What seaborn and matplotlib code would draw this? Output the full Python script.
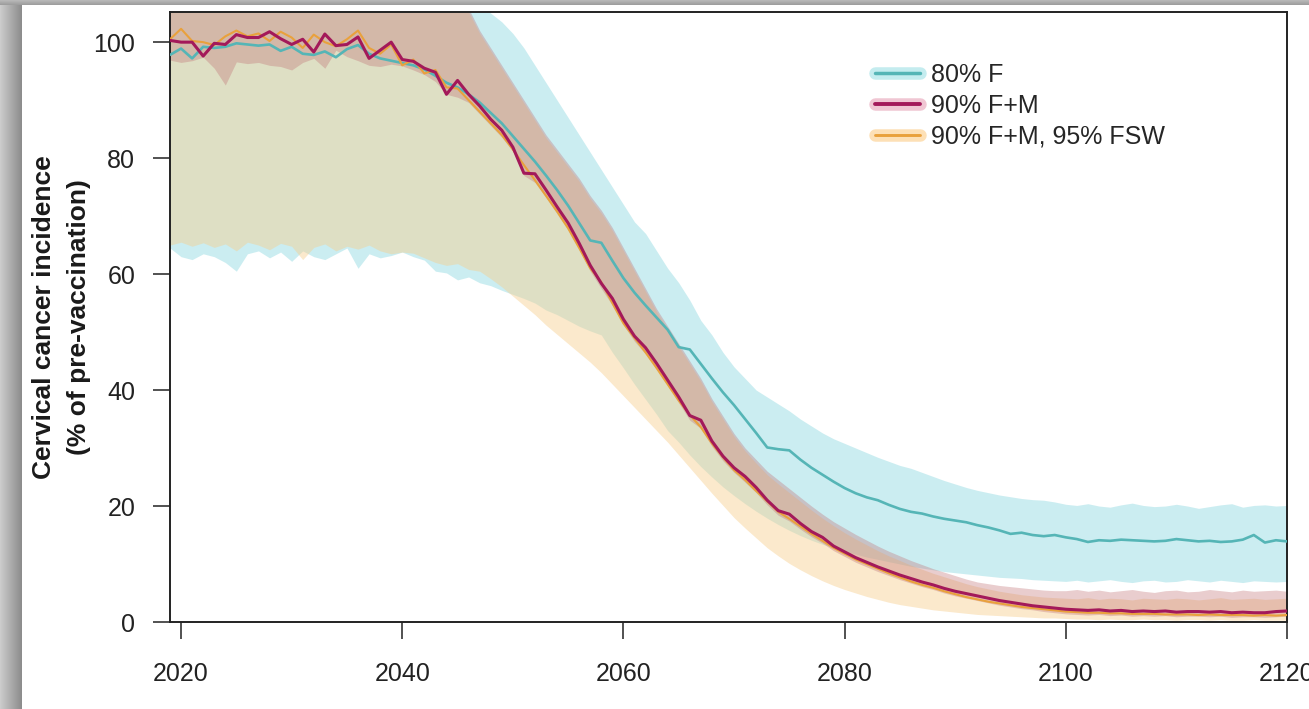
import numpy as np
import pandas as pd
import matplotlib
matplotlib.use('Agg')
import matplotlib.pyplot as plt
import seaborn as sns
from matplotlib.lines import Line2D

# Cervical cancer incidence projections (% of pre-vaccination), 2019-2120

years = np.arange(2019, 2121)

labels = ['80% F', '90% F+M', '90% F+M, 95% FSW']

# 80% F
teal_mid = [97.8, 98.9, 97.2, 99.2, 99.0, 99.2, 99.8, 99.6, 99.4, 99.6,
            98.5, 99.2, 98.0, 97.8, 98.4, 97.4, 98.8, 99.5, 98.0, 97.2,
            96.8, 96.4, 96.0, 95.3, 94.2, 93.0, 92.2, 91.0, 89.6, 87.8,
            86.0, 83.8, 81.6, 79.4, 77.0, 74.5, 71.8, 68.8, 65.8, 65.4,
            62.3, 59.3, 56.8, 54.6, 52.5, 50.4, 47.4, 47.0, 44.5, 42.0,
            39.6, 37.4, 35.0, 32.6, 30.1, 29.8, 29.6, 28.0, 26.6, 25.4,
            24.2, 23.1, 22.2, 21.5, 21.0, 20.2, 19.5, 19.0, 18.7, 18.2,
            17.8, 17.5, 17.2, 16.7, 16.3, 15.8, 15.2, 15.4, 15.0, 14.8,
            15.0, 14.6, 14.3, 13.8, 14.1, 14.0, 14.2, 14.1, 14.0, 13.9,
            14.0, 14.3, 14.1, 13.9, 14.0, 13.8, 13.9, 14.2, 15.0, 13.7,
            14.1, 13.9]
teal_lo = [64.5, 63.0, 62.5, 63.5, 63.0, 62.0, 60.5, 63.5, 64.0, 62.8,
           63.8, 62.2, 64.0, 63.0, 62.5, 63.5, 64.5, 61.0, 63.5, 62.8,
           63.2, 63.8, 63.0, 62.4, 60.5, 60.2, 59.0, 59.5, 58.5, 58.0,
           57.2, 56.5, 55.8, 55.0, 53.8, 53.0, 52.0, 51.0, 50.2, 49.5,
           46.5, 43.8, 41.0, 38.4, 35.8, 33.0, 31.0, 28.8, 26.8, 25.0,
           23.3, 21.8, 20.4, 19.1, 17.9, 16.8, 15.8, 14.9, 14.1, 13.4,
           12.8, 12.2, 11.7, 11.2, 10.8, 10.4, 10.0, 9.6, 9.3, 9.0,
           8.7, 8.5, 8.3, 8.1, 7.9, 7.7, 7.6, 7.5, 7.3, 7.2,
           7.1, 7.0, 7.2, 6.9, 7.1, 7.3, 7.0, 6.8, 7.1, 7.2,
           6.9, 7.0, 7.3, 7.1, 6.9, 7.2, 7.0, 6.8, 7.1, 7.0,
           6.9, 7.0]
teal_hi = [110.5, 111.0, 110.0, 111.5, 110.8, 111.2, 110.4, 111.0, 110.6, 111.3,
           110.9, 110.2, 111.1, 110.7, 110.3, 111.4, 110.8, 110.5, 110.0, 109.8,
           109.9, 109.5, 109.2, 109.0, 108.6, 108.2, 108.0, 107.5, 106.5, 105.0,
           103.5, 101.5, 99.0, 96.0, 93.0, 90.0, 87.0, 84.0, 81.0, 78.0,
           75.0, 72.0, 69.0, 67.0, 64.0, 61.0, 58.5, 55.5, 52.0, 49.5,
           46.5, 44.0, 42.0, 40.0, 38.8, 37.6, 36.4, 35.0, 33.8, 32.6,
           31.6, 30.8, 30.0, 29.2, 28.4, 27.7, 27.0, 26.5, 25.8, 25.1,
           24.4, 23.8, 23.2, 22.7, 22.3, 21.9, 21.6, 21.3, 21.1, 21.0,
           20.7, 20.3, 20.1, 20.4, 20.0, 19.8, 20.2, 20.5, 20.1, 19.9,
           20.0, 20.3, 20.0, 19.6, 19.9, 20.2, 20.4, 19.8, 20.1, 20.2,
           20.0, 20.1]

# 90% F+M
red_mid = [100.3, 100.0, 100.0, 97.6, 99.8, 99.6, 101.3, 100.8, 100.8, 101.8,
           100.6, 99.6, 100.5, 98.3, 101.4, 99.4, 99.6, 100.9, 97.2, 98.6,
           100.0, 97.0, 96.7, 95.5, 94.8, 91.0, 93.4, 91.0, 89.0, 86.7,
           84.8, 81.9, 77.4, 77.3, 74.5, 71.6, 68.8, 65.3, 61.5, 58.4,
           55.8, 52.2, 49.3, 47.3, 44.6, 41.7, 38.8, 35.6, 34.8, 31.2,
           28.6, 26.6, 25.1, 23.2, 21.0, 19.2, 18.6, 17.0, 15.6, 14.6,
           13.1, 12.1, 11.1, 10.3, 9.5, 8.8, 8.1, 7.5, 6.9, 6.4,
           5.8, 5.3, 4.9, 4.5, 4.1, 3.7, 3.4, 3.1, 2.8, 2.6,
           2.4, 2.2, 2.1, 2.0, 2.1, 1.9, 2.0, 1.8, 1.9, 1.8,
           1.9, 1.7, 1.8, 1.8, 1.7, 1.8, 1.6, 1.7, 1.6, 1.6,
           1.8, 1.9]
red_lo = [96.9, 96.5, 96.8, 97.4, 95.5, 92.6, 96.6, 96.3, 96.5, 96.0,
          95.8, 95.2, 96.5, 97.2, 95.5, 98.6, 97.5, 96.8, 96.0, 95.8,
          96.2, 95.9, 95.2, 94.4, 93.2, 91.0, 90.5, 89.6, 87.6, 85.6,
          83.6, 81.2, 77.0, 75.8, 73.2, 70.4, 67.6, 64.2, 60.5, 57.5,
          54.6, 51.2, 48.4, 46.2, 43.6, 40.7, 37.8, 34.8, 33.4, 30.3,
          27.8, 25.8, 24.1, 22.3, 20.2, 18.4, 17.4, 16.0, 14.7, 13.6,
          12.3, 11.3, 10.3, 9.5, 8.7, 8.0, 7.3, 6.7, 6.1, 5.6,
          5.0, 4.5, 4.1, 3.7, 3.3, 2.9, 2.6, 2.3, 2.1, 1.8,
          1.6, 1.4, 1.3, 1.2, 1.3, 1.1, 1.2, 1.0, 1.1, 1.0,
          1.1, 0.9, 1.0, 1.0, 0.9, 1.0, 0.8, 0.9, 0.9, 0.8,
          0.9, 1.0]
red_hi = [111.0, 110.5, 111.2, 110.8, 111.5, 110.9, 111.3, 110.6, 111.0, 110.7,
          111.2, 110.4, 110.9, 111.1, 110.6, 110.8, 111.0, 110.3, 110.0, 109.6,
          109.4, 109.0, 108.8, 108.4, 108.0, 107.4, 106.8, 105.8, 102.0, 99.0,
          96.0, 93.0, 90.0, 87.0, 84.0, 81.5, 79.0, 76.5, 73.5, 71.0,
          68.0, 64.5, 61.0, 57.5, 54.0, 51.0, 48.0, 45.0, 42.0, 38.5,
          35.5, 32.5, 30.0, 28.0, 26.0, 24.5, 23.0, 21.5, 20.0, 18.6,
          17.3, 16.2, 15.1, 14.1, 13.1, 12.2, 11.4, 10.6, 9.9, 9.2,
          8.6, 8.0, 7.4, 6.9, 6.6, 6.3, 6.1, 5.9, 5.7, 5.5,
          5.4, 5.4, 5.6, 5.3, 5.5, 5.2, 5.4, 5.6, 5.3, 5.1,
          5.4, 5.5, 5.2, 5.3, 5.6, 5.4, 5.2, 5.5, 5.3, 5.4,
          5.5, 5.3]

# 90% F+M, 95% FSW
orange_mid = [100.5, 102.3, 100.2, 100.0, 99.5, 101.0, 102.0, 101.0, 101.5, 100.2,
              101.8, 100.8, 99.0, 101.3, 100.0, 99.3, 100.5, 102.0, 99.0, 98.0,
              99.6, 96.0, 97.0, 94.6, 95.2, 92.2, 92.0, 90.0, 88.0, 86.0,
              84.0, 81.5, 78.8, 76.2, 73.5, 70.8, 67.9, 64.5, 61.0, 58.6,
              55.0, 51.5, 49.0, 46.5, 43.8, 41.0, 38.2, 35.7, 33.6, 30.8,
              28.4, 26.2, 24.5, 22.6, 20.8, 19.0, 17.8, 16.5, 15.2, 14.0,
              12.8, 11.8, 10.8, 10.0, 9.2, 8.4, 7.7, 7.0, 6.4, 5.9,
              5.3, 4.8, 4.3, 3.9, 3.5, 3.2, 2.9, 2.6, 2.4, 2.2,
              2.0, 1.8, 1.7, 1.6, 1.6, 1.5, 1.5, 1.4, 1.4, 1.4,
              1.3, 1.3, 1.3, 1.2, 1.3, 1.2, 1.2, 1.2, 1.1, 1.2,
              1.1, 1.2]
orange_lo = [65.0, 65.5, 64.8, 65.4, 64.6, 65.2, 64.0, 65.5, 65.0, 64.2,
             65.3, 64.8, 62.5, 64.6, 65.2, 64.0, 64.8, 64.3, 65.0, 64.0,
             63.5, 63.8, 63.6, 62.8, 62.0, 61.5, 61.8, 60.8, 60.5, 59.2,
             57.8, 56.2, 54.6, 53.0, 51.2, 49.6, 48.0, 46.4, 44.8, 43.0,
             41.0, 39.0, 37.0, 35.0, 33.0, 31.0, 28.8, 26.6, 24.4, 22.2,
             20.1, 18.0, 16.2, 14.5, 12.8, 11.4, 10.1, 9.0, 8.0, 7.1,
             6.3, 5.6, 5.0, 4.4, 3.9, 3.4, 3.0, 2.7, 2.4, 2.1,
             1.9, 1.7, 1.5, 1.3, 1.2, 1.1, 1.0, 0.9, 0.8, 0.7,
             0.7, 0.6, 0.5, 0.5, 0.4, 0.5, 0.4, 0.4, 0.5, 0.4,
             0.4, 0.3, 0.4, 0.4, 0.3, 0.4, 0.3, 0.3, 0.4, 0.3,
             0.3, 0.3]
orange_hi = [110.0, 110.6, 111.0, 110.4, 110.9, 111.2, 110.5, 110.8, 111.0, 110.3,
             110.7, 111.1, 110.2, 110.6, 110.9, 110.4, 110.7, 110.1, 109.8, 109.5,
             109.2, 108.8, 108.5, 108.0, 107.6, 107.0, 106.4, 105.2, 101.5, 98.5,
             95.5, 92.5, 89.5, 86.5, 83.5, 81.0, 78.5, 76.0, 73.0, 70.5,
             67.5, 64.0, 60.5, 57.0, 53.5, 50.5, 47.5, 44.5, 41.5, 38.0,
             35.0, 32.0, 29.5, 27.4, 25.4, 23.8, 22.3, 20.8, 19.3, 17.9,
             16.6, 15.4, 14.3, 13.3, 12.3, 11.4, 10.6, 9.8, 9.1, 8.4,
             7.8, 7.2, 6.6, 6.1, 5.7, 5.3, 5.0, 4.7, 4.5, 4.3,
             4.2, 4.1, 4.0, 4.2, 3.9, 4.1, 4.0, 3.8, 4.1, 4.0,
             3.9, 4.1, 4.0, 3.8, 4.0, 4.2, 3.9, 4.0, 4.1, 3.9,
             4.0, 4.1]

x_ticks = [2020, 2040, 2060, 2080, 2100, 2120]
y_ticks = [0, 20, 40, 60, 80, 100]

# cores das linhas, das faixas e da legenda
line_col = {labels[0]: '#55b5b6', labels[1]: '#a3195a', labels[2]: '#e9a13c'}
fill_col = {labels[0]: '#7fd3dc', labels[1]: '#c07074', labels[2]: '#f7cf8e'}
fill_alpha = {labels[0]: 0.4, labels[1]: 0.35, labels[2]: 0.45}
leg_col = {labels[0]: '#c4ecef', labels[1]: '#f0c6d3', labels[2]: '#fde0b6'}
widths = {labels[0]: 1.9, labels[1]: 2.2, labels[2]: 1.5}

df = pd.DataFrame({
    'year': np.tile(years, 3),
    'value': np.concatenate([teal_mid, red_mid, orange_mid]),
    'lo': np.concatenate([teal_lo, red_lo, orange_lo]),
    'hi': np.concatenate([teal_hi, red_hi, orange_hi]),
    'scenario': np.repeat(labels, len(years)),
})

sns.set_style('ticks')
plt.rcParams['font.family'] = ['Liberation Sans', 'DejaVu Sans']

fig = plt.figure(figsize=(13.09, 7.09), dpi=100)
ax = fig.add_axes([170 / 1309, 1 - 622 / 709, 1117 / 1309, 610 / 709])

# faixas de incerteza: teal, laranja e vermelho por cima
for lab in [labels[0], labels[2], labels[1]]:
    d = df[df['scenario'] == lab]
    ax.fill_between(d['year'], d['lo'], d['hi'], color=fill_col[lab],
                    alpha=fill_alpha[lab], lw=0, zorder=1)

order = [labels[0], labels[2], labels[1]]
sns.lineplot(data=df, x='year', y='value', hue='scenario', hue_order=order,
             size='scenario', size_order=order, sizes=widths,
             palette=line_col, errorbar=None, legend=False, ax=ax, zorder=3)

ax.set_xlim(2019, 2120)
ax.set_ylim(0, 105.2)
ax.set_xticks(x_ticks)
ax.set_yticks(y_ticks)
ax.set_xlabel('')
ax.set_ylabel('Cervical cancer incidence\n(% of pre-vaccination)', fontsize=19,
              fontweight='bold', linespacing=1.55, color='#1a1a1a')
ax.yaxis.set_label_coords(-0.071, 0.5)

for s in ax.spines.values():
    s.set_linewidth(1.4)
    s.set_color('#222222')
ax.tick_params(axis='both', length=12, width=1.1, labelsize=18,
               color='#222222', labelcolor='#222222')
ax.tick_params(axis='x', pad=17)
ax.tick_params(axis='y', pad=13)

handles = [(Line2D([], [], color=leg_col[lab], lw=9, solid_capstyle='round'),
            Line2D([], [], color=line_col[lab], lw=widths[lab] + 0.6))
           for lab in labels]
ax.legend(handles, labels, loc='upper left', bbox_to_anchor=(0.631, 0.917),
          frameon=False, fontsize=18, handlelength=1.8, handletextpad=0.45,
          labelspacing=0.28, borderpad=0, borderaxespad=0)

# moldura cinza da captura (esquerda e topo)
left = np.linspace(0.80, 0.55, 22)
strip = np.tile(left, (709, 1))
fig.figimage(np.dstack([strip] * 3), xo=0, yo=0, origin='upper', zorder=10)
top = np.tile(np.linspace(0.72, 0.62, 5)[:, None], (1, 1309))
fig.figimage(np.dstack([top] * 3), xo=0, yo=704, origin='upper', zorder=10)

fig.savefig('out.png', dpi=100)
